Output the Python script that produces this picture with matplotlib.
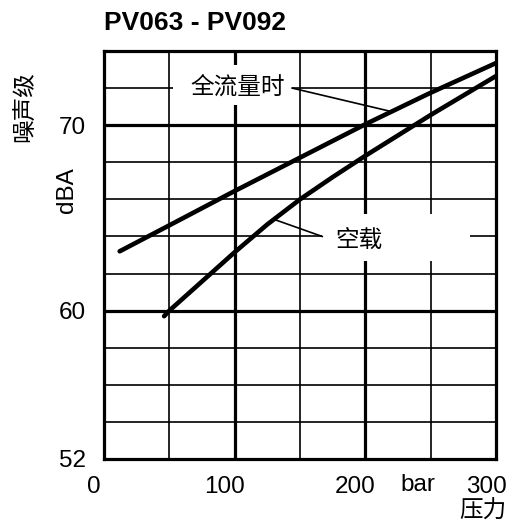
import matplotlib
matplotlib.use("Agg")
import matplotlib.pyplot as plt
import matplotlib.transforms as mtransforms
from matplotlib.patches import Rectangle
import numpy as np

# Data
full_flow_p = [12, 50, 100, 150, 200, 250, 300]
full_flow_db = [63.2, 64.6, 66.45, 68.25, 70.05, 71.75, 73.35]
no_load_p = [46, 50, 100, 125, 150, 175, 200, 250, 300]
no_load_db = [59.7, 60.0, 63.15, 64.65, 66.0, 67.2, 68.35, 70.55, 72.65]

x_ticks = [0, 100, 200, 300]
x_tick_labels = ["0", "100", "200", "300"]
y_ticks = [52, 60, 70]
y_tick_labels = ["52", "60", "70"]

title = "PV063 - PV092"
label_full = "全流量时"
label_noload = "空载"

LATIN = ["Liberation Sans", "Noto Sans CJK SC", "DejaVu Sans"]
CJK = ["Noto Sans CJK SC", "DejaVu Sans"]
plt.rcParams["font.family"] = LATIN

fig = plt.figure(figsize=(5.09, 5.25), dpi=100)
W, H = 509, 525
ax = fig.add_axes([104 / W, 1 - 459 / H, (496 - 104) / W, (459 - 51) / H])
ax.set_xlim(0, 300)
ax.set_ylim(52, 74)

# grid
for xv in np.arange(50, 300, 50):
    lw = 2.3 if xv % 100 == 0 else 1.2
    ax.axvline(xv, color="black", lw=lw, zorder=1)
for yv in np.arange(54, 74, 2):
    lw = 2.3 if yv % 10 == 0 else 1.2
    ax.axhline(yv, color="black", lw=lw, zorder=1)

for s in ax.spines.values():
    s.set_linewidth(2.3)
    s.set_zorder(5)

# white masks behind labels
ax.add_patch(Rectangle((53, 71.1), 91, 2.15, facecolor="white", edgecolor="none", zorder=2))
ax.add_patch(Rectangle((167, 62.7), 113, 2.5, facecolor="white", edgecolor="none", zorder=2))

# curves
ax.plot(full_flow_p, full_flow_db, color="black", lw=3.3, solid_capstyle="round",
        solid_joinstyle="round", zorder=4)
ax.plot(no_load_p, no_load_db, color="black", lw=3.3, solid_capstyle="round",
        solid_joinstyle="round", zorder=4)

# labels and leaders
ax.text(102, 72.0, label_full, family=CJK, fontsize=17, ha="center", va="center", zorder=6)
ax.plot([144, 219], [72.0, 70.75], color="black", lw=1.2, zorder=3)
ax.text(195, 63.8, label_noload, family=CJK, fontsize=17, ha="center", va="center", zorder=6)
ax.plot([167, 131], [64.0, 64.9], color="black", lw=1.2, zorder=3)

# ticks
ax.set_xticks(x_ticks)
ax.set_xticklabels(x_tick_labels, fontsize=17.5)
ax.set_yticks(y_ticks)
ax.set_yticklabels(y_tick_labels, fontsize=17.5)
ax.tick_params(length=0)
ax.tick_params(axis="x", pad=12)
ax.tick_params(axis="y", pad=13)
off = mtransforms.ScaledTranslation(-10 / 100, 0, fig.dpi_scale_trans)
for lab in ax.get_xticklabels():
    lab.set_transform(lab.get_transform() + off)

# other texts
fig.text(104 / W, 1 - 23.5 / H, title, fontsize=19, fontweight="bold", ha="left", va="center")
fig.text(25 / W, 1 - 107 / H, "噪声级", family=CJK, fontsize=17, rotation=90, ha="center", va="center")
fig.text(67 / W, 1 - 190 / H, "dBA", fontsize=17.5, rotation=90, ha="center", va="center")
fig.text(418 / W, 1 - 485 / H, "bar", fontsize=17.5, ha="center", va="center")
fig.text(483 / W, 1 - 511 / H, "压力", family=CJK, fontsize=17, ha="center", va="center")

fig.savefig("out.png", dpi=100, facecolor="white")
